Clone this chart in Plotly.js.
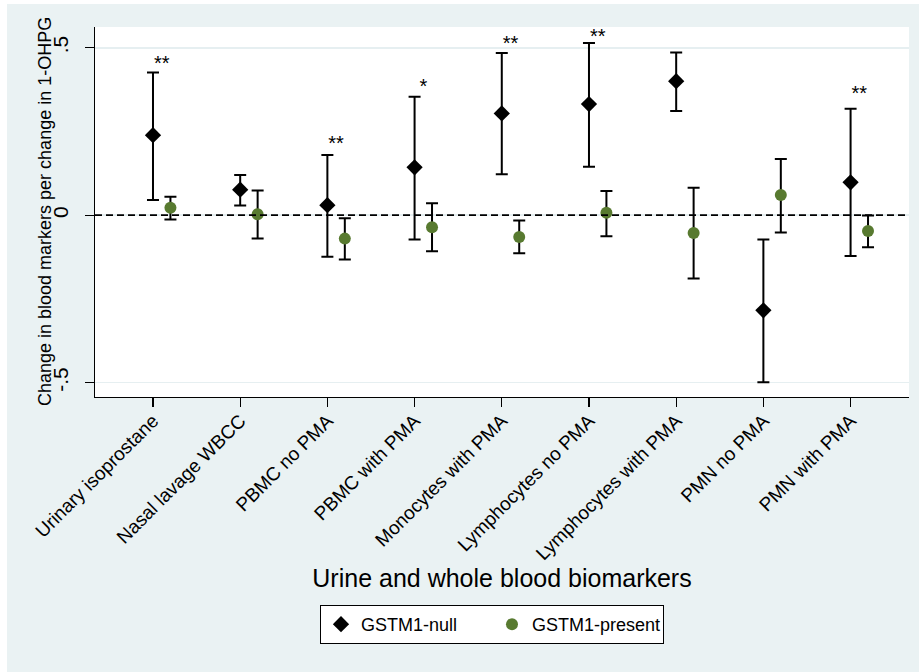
<!DOCTYPE html>
<html>
<head>
<meta charset="utf-8">
<script src="https://cdn.plot.ly/plotly-3.0.1.min.js"></script>
<style>html,body{margin:0;padding:0;background:#fff;}#chart{width:919px;height:672px;}</style>
</head>
<body>
<div id="chart"></div>
<script>
// ---- data ----
const categories = ["Urinary isoprostane","Nasal lavage WBCC","PBMC no PMA","PBMC with PMA","Monocytes with PMA","Lymphocytes no PMA","Lymphocytes with PMA","PMN no PMA","PMN with PMA"];
const nullEst   = [0.239, 0.076, 0.030, 0.143, 0.304, 0.332, 0.400, -0.284, 0.098];
const nullUpper = [0.426, 0.120, 0.180, 0.354, 0.484, 0.514, 0.486, -0.073, 0.318];
const nullLower = [0.045, 0.029, -0.124, -0.073, 0.122, 0.145, 0.311, -0.499, -0.122];
const presEst   = [0.022, 0.003, -0.070, -0.036, -0.065, 0.007, -0.053, 0.060, -0.047];
const presUpper = [0.055, 0.074, -0.009, 0.036, -0.016, 0.072, 0.082, 0.168, -0.001];
const presLower = [-0.013, -0.070, -0.132, -0.108, -0.114, -0.063, -0.189, -0.052, -0.096];
const starLabels = ["**", "", "**", "*", "**", "**", "", "", "**"];
const starY      = [0.448, null, 0.210, 0.379, 0.508, 0.528, null, null, 0.359];
const yTickVals  = [-0.5, 0, 0.5];
const yTickText  = ["-.5", "0", ".5"];
const xTitle = "Urine and whole blood biomarkers";
const yTitle = "Change in blood markers per change in 1-OHPG";

const idx = categories.map((c, i) => i);
const FONT = "Liberation Sans, Arial, Helvetica, sans-serif";

const traceNull = {
  x: idx, y: nullEst, type: "scatter", mode: "markers", name: "GSTM1-null",
  marker: {symbol: "diamond", size: 12.5, color: "#000000"},
  error_y: {type: "data", symmetric: false,
    array: nullEst.map((v, i) => nullUpper[i] - v),
    arrayminus: nullEst.map((v, i) => v - nullLower[i]),
    color: "#000000", thickness: 2, width: 6},
  hoverinfo: "skip"
};
const tracePres = {
  x: idx.map(i => i + 0.2), y: presEst, type: "scatter", mode: "markers", name: "GSTM1-present",
  marker: {symbol: "circle", size: 12, color: "#587a30"},
  error_y: {type: "data", symmetric: false,
    array: presEst.map((v, i) => presUpper[i] - v),
    arrayminus: presEst.map((v, i) => v - presLower[i]),
    color: "#000000", thickness: 2, width: 6},
  hoverinfo: "skip"
};
const traceStars = {
  x: idx.map(i => i + 0.1), y: starY, text: starLabels, type: "scatter", mode: "text",
  textposition: "middle center", textfont: {family: FONT, size: 20, color: "#000"},
  showlegend: false, hoverinfo: "skip"
};

const layout = {
  width: 919, height: 672,
  margin: {l: 95, r: 10, t: 27, b: 275},
  paper_bgcolor: "#ffffff",
  plot_bgcolor: "#ffffff",
  font: {family: FONT, color: "#000"},
  showlegend: true,
  legend: {
    orientation: "h", x: 0.2764, xanchor: "left", y: -0.562, yanchor: "top",
    bgcolor: "#ffffff", bordercolor: "#000000", borderwidth: 1,
    font: {family: FONT, size: 18, color: "#000"},
    entrywidth: 126
  },
  xaxis: {
    range: [-0.665, 8.67], tickmode: "array", tickvals: idx, ticktext: categories,
    tickangle: -45, ticks: "outside", ticklen: 9, tickwidth: 1.2, tickcolor: "#000",
    ticklabelstandoff: -5,
    showline: true, linecolor: "#000", linewidth: 1.2, showgrid: false, zeroline: false,
    tickfont: {family: FONT, size: 19, color: "#000"},
    title: {text: xTitle, font: {family: FONT, size: 25, color: "#000"}, standoff: 5}
  },
  yaxis: {
    range: [-0.543, 0.562], tickmode: "array", tickvals: yTickVals, ticktext: yTickText,
    tickangle: -90, ticks: "outside", ticklen: 9, tickwidth: 1.2, tickcolor: "#000",
    ticklabelstandoff: 8,
    showline: true, linecolor: "#000", linewidth: 1.2,
    showgrid: true, gridcolor: "#e6eff1", gridwidth: 1.5, zeroline: false,
    tickfont: {family: FONT, size: 21, color: "#000"}
  },
  annotations: [
    {text: yTitle, xref: "paper", yref: "paper", x: -0.0614, y: 0.5,
     xanchor: "center", yanchor: "middle", textangle: -90, showarrow: false,
     font: {family: FONT, size: 18, color: "#000"}}
  ],
  shapes: [
    {type: "rect", xref: "paper", yref: "paper", x0: -0.1081, x1: 1.05, y0: -0.8, y1: 1.0622,
     fillcolor: "#eaf2f3", line: {width: 0}, layer: "below"},
    {type: "rect", xref: "paper", yref: "paper", x0: 0, x1: 1, y0: 0, y1: 1,
     fillcolor: "#ffffff", line: {width: 0}, layer: "below"},
    {type: "line", xref: "paper", yref: "y", x0: 0, x1: 1, y0: 0, y1: 0,
     line: {color: "#000", width: 1.8, dash: "7px,4px"}, layer: "above"}
  ]
};

Plotly.newPlot("chart", [traceNull, tracePres, traceStars], layout, {staticPlot: true, displayModeBar: false});
</script>
</body>
</html>
